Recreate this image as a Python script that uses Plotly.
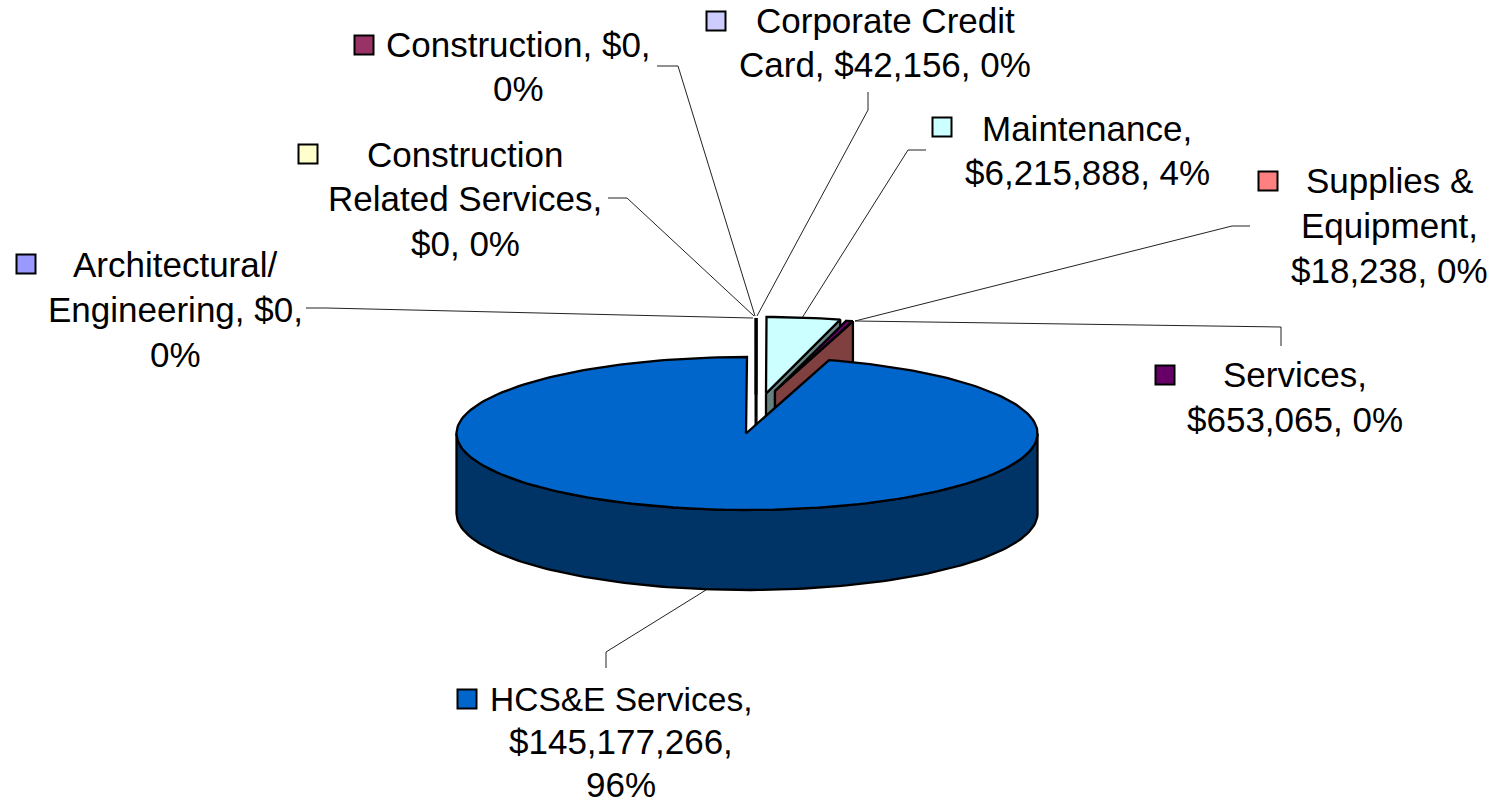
import numpy as np
import plotly.graph_objects as go

categories = ["Architectural/ Engineering", "Construction Related Services", "Construction",
              "Corporate Credit Card", "Maintenance", "Services", "Supplies & Equipment", "HCS&E Services"]
values = [0, 0, 0, 42156, 6215888, 653065, 18238, 145177266]
top_colors = ["#9999FF", "#FFFFCC", "#993366", "#CCCCFF", "#CCFFFF", "#660066", "#FF8080", "#0066CC"]
wall_colors = ["#4D4D80", "#808066", "#4D1A33", "#666680", "#668080", "#330033", "#804040", "#003366"]
label_lines = [
    ["Architectural/", "Engineering, $0,", "0%"],
    ["Construction", "Related Services,", "$0, 0%"],
    ["Construction, $0,", "0%"],
    ["Corporate Credit", "Card, $42,156, 0%"],
    ["Maintenance,", "$6,215,888, 4%"],
    ["Services,", "$653,065, 0%"],
    ["Supplies &", "Equipment,", "$18,238, 0%"],
    ["HCS&E Services,", "$145,177,266,", "96%"],
]

# layout (pixel-scale axes)
CX, CY, RX, RY, DEPTH = 747, 433.5, 290.5, 76.5, 80
offsets = [(9, -39), (9, -39), (9, -39), (9, -39), (19, -40), (28, -42.5), (28, -42.5), (0, 0)]
slice_scale = [1, 1, 1, 1, 1, 0.95, 0.95, 1]
label_x = [175, 465, 518, 885, 1087, 1295, 1389, 621]
label_y0 = [264, 154, 44, 20, 128, 374, 180, 699]
line_gap = [45, 44.5, 44, 44, 44, 45, 45, 42.5]
swatch_x = [26, 308, 364, 716, 942, 1165, 1268, 467]
swatch_y = [264, 154, 45, 21, 127, 375, 181, 699]
FONT_SIZE, HCS_LINE_SIZE = 35, 33.5
leaders = [
    ([306, 326, 753], [308, 308, 318]),
    ([608, 627, 754], [198, 198, 316]),
    ([657, 678, 755], [66, 66, 316]),
    ([868, 868, 757], [92, 110, 316]),
    ([926, 908, 802], [150, 150, 318]),
    ([1250, 1232, 855], [226, 226, 321]),
    ([1281, 1281, 855], [346, 327, 321]),
    ([606, 606, 706], [668, 652, 590]),
]

total = sum(values)
ends = np.cumsum(values) / total * 2 * np.pi
starts = np.concatenate(([0], ends[:-1]))


def point(a, ox=0, oy=0, dy=0, k=1):
    return CX + ox + k * RX * np.sin(a), CY + oy - k * RY * np.cos(a) + dy


fig = go.Figure()


def poly(xs, ys, fill):
    fig.add_trace(go.Scatter(x=xs, y=ys, mode="lines", fill="toself", fillcolor=fill,
                             line=dict(color="black", width=2.3), hoverinfo="skip", showlegend=False))


# leader lines
for xs, ys in leaders:
    fig.add_trace(go.Scatter(x=xs, y=ys, mode="lines", line=dict(color="#222222", width=1),
                             hoverinfo="skip", showlegend=False))

# exploded slices behind the main slice
for i in range(7):
    s, e = starts[i], ends[i]
    ox, oy = offsets[i]
    k = slice_scale[i]
    px, py = CX + ox, CY + oy
    ex, ey = point(e, ox, oy, k=k)
    poly([px, ex, ex, px, px], [py, ey, ey + DEPTH, py + DEPTH, py], wall_colors[i])
    arc = np.linspace(s, e, 12)
    ax, ay = point(arc, ox, oy, k=k)
    poly([px, *ax, px], [py, *ay, py], top_colors[i])

# main slice: outer wall then top
s, e = starts[7], ends[7]
front = np.linspace(np.pi / 2, 3 * np.pi / 2, 120)
fx, fy = point(front)
poly([*fx, *fx[::-1], fx[0]], [*fy, *(fy[::-1] + DEPTH), fy[0]], wall_colors[7])
arc = np.linspace(s, e, 240)
ax, ay = point(arc)
poly([CX - 1, *ax, CX - 1], [CY, *ay, CY], top_colors[7])

# legend keys
fig.add_trace(go.Scatter(x=swatch_x, y=swatch_y, mode="markers",
                         marker=dict(symbol="square", size=19, color=top_colors,
                                     line=dict(color="black", width=2)),
                         hoverinfo="skip", showlegend=False))

annotations = []
for i, lines in enumerate(label_lines):
    for j, t in enumerate(lines):
        size = HCS_LINE_SIZE if t.startswith("HCS") else FONT_SIZE
        annotations.append(dict(x=label_x[i], y=label_y0[i] + j * line_gap[i], text=t,
                                showarrow=False, xanchor="center", yanchor="middle", borderpad=0,
                                font=dict(family="Liberation Sans", size=size, color="black")))

fig.update_layout(
    width=1494, height=804, autosize=False, margin=dict(l=0, r=0, t=0, b=0),
    paper_bgcolor="white", plot_bgcolor="white", annotations=annotations,
    xaxis=dict(range=[0, 1494], visible=False, fixedrange=True),
    yaxis=dict(range=[804, 0], visible=False, fixedrange=True),
)
fig.write_html("out.html", config=dict(displayModeBar=False),
               post_script="document.body.style.margin='0';document.documentElement.style.overflow='hidden';")
